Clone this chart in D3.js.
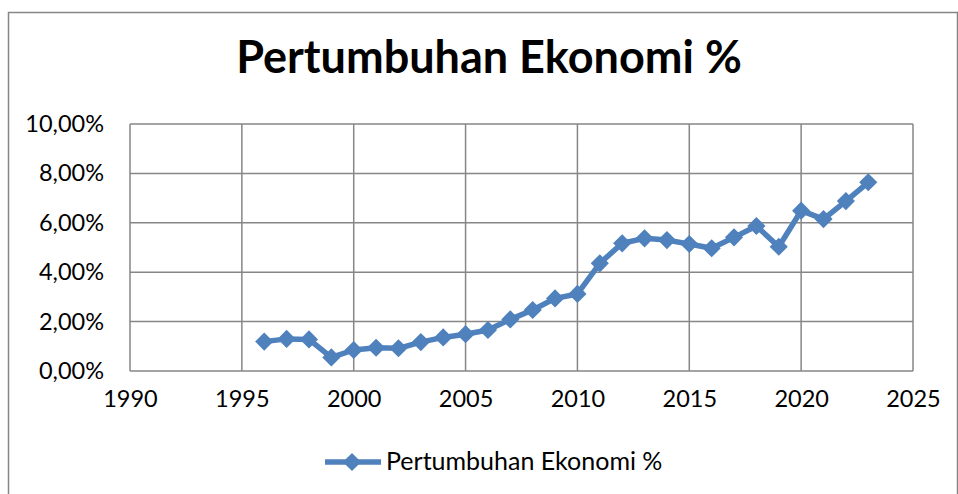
<!DOCTYPE html>
<html>
<head>
<meta charset="utf-8">
<script src="https://cdn.jsdelivr.net/npm/d3@7"></script>
<style>
  html, body { margin: 0; padding: 0; background: #fff; }
  svg { display: block; font-family: Lato, "Open Sans", sans-serif; }
</style>
</head>
<body>
<div id="chart"></div>
<script>
var seriesName = 'Pertumbuhan Ekonomi %';
var years = [1996, 1997, 1998, 1999, 2000, 2001, 2002, 2003, 2004, 2005, 2006, 2007, 2008, 2009,
             2010, 2011, 2012, 2013, 2014, 2015, 2016, 2017, 2018, 2019, 2020, 2021, 2022, 2023];
var growth = [1.19, 1.30, 1.28, 0.55, 0.85, 0.94, 0.92, 1.17, 1.36, 1.49, 1.66, 2.09, 2.47, 2.94,
              3.12, 4.36, 5.17, 5.37, 5.30, 5.14, 4.97, 5.41, 5.87, 5.03, 6.49, 6.15, 6.88, 7.64];
var xTicks = [1990, 1995, 2000, 2005, 2010, 2015, 2020, 2025];
var yTicks = [0, 2, 4, 6, 8, 10];

var width = 958, height = 494;
var blue = '#4f81bd', grid = '#868686';
var plot = {left: 130, right: 913, top: 124, bottom: 371};

var svg = d3.select('#chart').append('svg')
    .attr('width', width)
    .attr('height', height);

// chart area border (bottom runs off the picture)
svg.append('path')
    .attr('d', 'M8.5,' + (height + 2) + 'V12.5H957.5V' + (height + 2))
    .attr('fill', 'none')
    .attr('stroke', grid)
    .attr('stroke-width', 1.5);

var x = d3.scaleLinear().domain([1990, 2025]).range([plot.left, plot.right]);
var y = d3.scaleLinear().domain([0, 10]).range([plot.bottom, plot.top]);

var idLocale = d3.formatLocale({decimal: ',', thousands: '.', grouping: [3], currency: ['', '']});
var fmtPct = function(v) { return idLocale.format('.2f')(v) + '%'; };

svg.append('text')
    .attr('x', 489)
    .attr('y', 73)
    .attr('text-anchor', 'middle')
    .attr('font-size', '45px')
    .attr('font-weight', 'bold')
    .attr('fill', '#000')
    .text(seriesName);

// gridlines
var g = svg.append('g');
g.selectAll('line.h')
    .data(yTicks)
    .join('line')
    .attr('class', 'h')
    .attr('x1', plot.left).attr('x2', plot.right)
    .attr('y1', function(d) { return y(d); })
    .attr('y2', function(d) { return y(d); })
    .attr('stroke', grid)
    .attr('stroke-width', 1.5);
g.selectAll('line.v')
    .data(xTicks)
    .join('line')
    .attr('class', 'v')
    .attr('x1', function(d) { return x(d); })
    .attr('x2', function(d) { return x(d); })
    .attr('y1', plot.top).attr('y2', plot.bottom)
    .attr('stroke', grid)
    .attr('stroke-width', 1.5);

var yAxis = svg.append('g')
    .attr('transform', 'translate(' + plot.left + ',0)')
    .call(d3.axisLeft(y).tickValues(yTicks).tickSize(0).tickPadding(26).tickFormat(fmtPct));
var xAxis = svg.append('g')
    .attr('transform', 'translate(0,' + plot.bottom + ')')
    .call(d3.axisBottom(x).tickValues(xTicks).tickSize(0).tickPadding(19).tickFormat(d3.format('d')));
[xAxis, yAxis].forEach(function(a) {
    a.select('.domain').remove();
    a.selectAll('text')
        .attr('font-family', 'Lato, "Open Sans", sans-serif')
        .attr('font-size', '23.5px')
        .attr('fill', '#000');
});

var points = years.map(function(yr, i) { return {year: yr, value: growth[i]}; });

var line = d3.line()
    .x(function(d) { return x(d.year); })
    .y(function(d) { return y(d.value); });

svg.append('path')
    .datum(points)
    .attr('d', line)
    .attr('fill', 'none')
    .attr('stroke', blue)
    .attr('stroke-width', 5.5)
    .attr('stroke-linejoin', 'round');

var diamond = d3.symbol().type(d3.symbolDiamond2).size(210);

svg.append('g')
    .selectAll('path')
    .data(points)
    .join('path')
    .attr('d', diamond)
    .attr('transform', function(d) { return 'translate(' + x(d.year) + ',' + y(d.value) + ')'; })
    .attr('fill', blue);

// legend
var legend = svg.append('g').attr('transform', 'translate(325,462)');
legend.append('line')
    .attr('x1', 0).attr('x2', 56)
    .attr('y1', 0).attr('y2', 0)
    .attr('stroke', blue)
    .attr('stroke-width', 5.5);
legend.append('path')
    .attr('d', diamond)
    .attr('transform', 'translate(27,0)')
    .attr('fill', blue);
legend.append('text')
    .attr('x', 61)
    .attr('y', 8)
    .attr('font-size', '25px')
    .attr('fill', '#000')
    .text(seriesName);
</script>
</body>
</html>
